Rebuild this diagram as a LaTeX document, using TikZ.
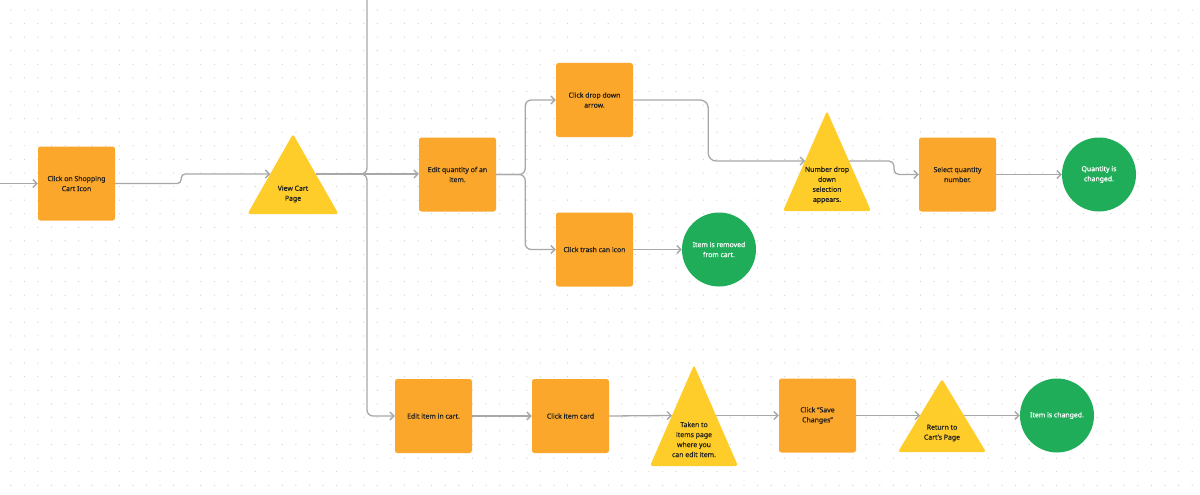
\documentclass[tikz,border=0pt]{standalone}
\usepackage{fontspec}
\setmainfont{Noto Sans}[FakeBold=0.35]
\usetikzlibrary{arrows.meta,calc}
\definecolor{orangeb}{HTML}{FBA72B}
\definecolor{yellowt}{HTML}{FFCD29}
\definecolor{greenc}{HTML}{1FAD5A}
\definecolor{linec}{HTML}{A8A8A8}
\definecolor{dotc}{HTML}{D2D2D2}
\definecolor{txtc}{HTML}{1E1E1E}
\begin{document}
\begin{tikzpicture}[x=1pt,y=-1pt,
  lbl/.style={align=center,font=\fontsize{6.9}{10}\selectfont},
  box/.style={lbl,fill=orangeb,rounded corners=2.5pt,minimum width=77pt,minimum height=74pt,inner sep=1pt,text=txtc},
  circ/.style={lbl,circle,fill=greenc,minimum size=74pt,inner sep=0pt,text=white},
  tri/.style={fill=yellowt,rounded corners=2.5pt},
  ttext/.style={lbl,inner sep=0pt,text=txtc},
  wire/.style={draw=linec,line width=1.3pt},
  conn/.style={wire,-{Straight Barb[length=4pt,width=8pt]}},
]
% background and dot grid
\fill[white] (0,0) rectangle (1200,495);
\useasboundingbox (0,0) rectangle (1200,495);
\foreach \i in {0,...,88}{
  \foreach \j in {0,...,35}{
    \fill[dotc] (10.7+13.58*\i,10+13.58*\j) circle (0.65);
  }
}

% boxes
\node[box] (b1) at (76.5,183.5) {Click on Shopping\\Cart Icon};
\node[box] (b2) at (457.5,174.5) {Edit quantity of an\\item.};
\node[box] (b3) at (594.5,100) {Click drop down\\arrow.};
\node[box] (b4) at (594.5,249.5) {Click trash can icon};
\node[box] (b5) at (957.5,174.5) {Select quantity\\number.};
\node[box] (b6) at (433.5,416) {Edit item in cart.};
\node[box] (b7) at (570.5,416) {Click item card};
\node[box] (b8) at (817.5,415.5) {Click ``Save\\Changes''};

% circles
\node[circ] (c1) at (719,249.5) {Item is removed\\from cart.};
\node[circ] (c2) at (1099,174.5) {Quantity is\\changed.};
\node[circ] (c3) at (1057,415.5) {Item is changed.};

% triangles
\fill[tri] (293,134) -- (338.5,214) -- (247.5,214) -- cycle;
\node[ttext] (t1) at (293,194) {View Cart\\Page};
\coordinate (t1L) at (270.25,174);
\coordinate (t1R) at (315.75,174);

\fill[tri] (827,111) -- (871,211) -- (783,211) -- cycle;
\node[ttext] (t2) at (827,185) {Number drop\\down\\selection\\appears.};
\coordinate (t2L) at (805,161);
\coordinate (t2R) at (849,161);

\fill[tri] (694,365) -- (738,466) -- (650,466) -- cycle;
\node[ttext] (t3) at (694,439.5) {Taken to\\items page\\where you\\can edit item.};
\coordinate (t3L) at (672,415.5);
\coordinate (t3R) at (716,415.5);

\fill[tri] (942,379) -- (986,452) -- (898,452) -- cycle;
\node[ttext] (t4) at (942,433) {Return to\\Cart's Page};
\coordinate (t4L) at (920,415.5);
\coordinate (t4R) at (964,415.5);

% junction coordinates
\coordinate (in) at (0,183.5);
\coordinate (jt) at (367,0);
\coordinate (j) at (361,174);

% connectors
\draw[conn] (in) -- (b1.west);
\draw[conn,rounded corners=4pt] (b1.east) -- ($(b1.east)+(66,0)$) -- ($(b1.east |- t1L)+(66,0)$) -- (t1L);
\draw[wire,rounded corners=6pt] (jt) -- (jt |- j) -- (j);
\draw[conn] (t1R) -- (t1R -| b2.west);
\draw[conn,rounded corners=6pt] (j) -- (j -| jt) -- (jt |- b6.west) -- (b6.west);
\draw[conn,rounded corners=6pt] (b2.east) -- ($(b2.east)+(29,0)$) |- (b3.west);
\draw[conn,rounded corners=6pt] (b2.east) -- ($(b2.east)+(29,0)$) |- (b4.west);
\draw[conn] (b4.east) -- (c1.west);
\draw[conn,rounded corners=8pt] (b3.east) -- ($(b3.east)+(75,0)$) |- (t2L);
\draw[conn,rounded corners=5pt] (t2R) -- ($(t2R)+(45,0)$) -- ($(t2R |- b5.west)+(45,0)$) -- (b5.west);
\draw[conn] (b5.east) -- (c2.west);
\draw[conn] (b6.east) -- (b7.west);
\draw[conn] (b7.east) -- (t3L);
\draw[conn] (t3R) -- (b8.west);
\draw[conn] (b8.east) -- (t4L);
\draw[conn] (t4R) -- (c3.west);
\end{tikzpicture}
\end{document}
